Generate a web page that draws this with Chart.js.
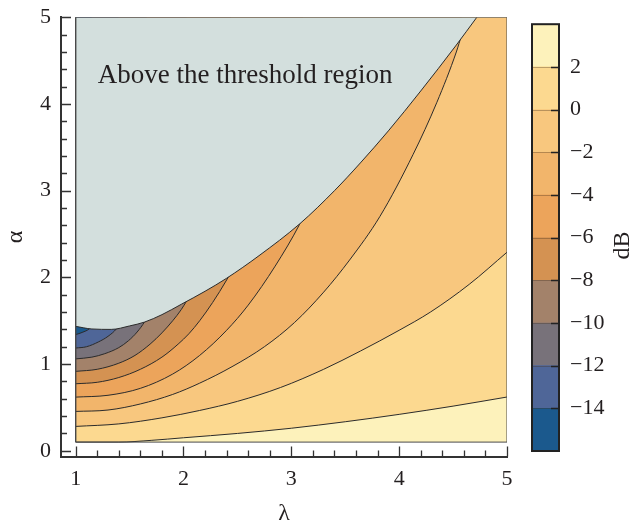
<!DOCTYPE html>
<html>
  <head>
    <title>Gain contours</title>
    <script src="https://cdn.jsdelivr.net/npm/chart.js"></script>
    <style>
      body {
        margin: 0;
        background: #fff;
      }

      .wrap {
        position: relative;
        width: 635px;
        height: 522px;
      }

      #contours {
        position: absolute;
        left: 0;
        top: 0;
      }

      #colorBar {
        position: absolute;
        left: 520px;
        top: 0;
      }
    </style>
  </head>
  <body>
    <div class="wrap">
      <canvas id="contours" width="635" height="522"></canvas>
      <canvas id="colorBar" width="115" height="522"></canvas>
    </div>
    <script>
      // contour lines as [lambda, alpha] pairs
      const threshold = [[1.0, 1.435], [1.15, 1.405], [1.33, 1.4], [1.5, 1.44], [1.64, 1.485], [1.8, 1.57], [1.98, 1.69], [2.2, 1.84], [2.4, 1.99], [2.7, 2.25], [3.08, 2.62], [3.4, 3.0], [3.64, 3.32], [3.9, 3.69], [4.2, 4.15], [4.53, 4.68], [4.72, 5.0]];
      const contourP2 = [[1.0, 0.1], [1.4, 0.1], [1.7, 0.12], [2.0, 0.15], [2.5, 0.2], [3.0, 0.26], [3.5, 0.335], [4.0, 0.42], [4.5, 0.515], [5.0, 0.62]];
      const contour0 = [[1.0, 0.281], [1.4, 0.31], [1.8, 0.38], [2.15, 0.465], [2.5, 0.57], [2.9, 0.73], [3.3, 0.94], [3.64, 1.15], [4.0, 1.39], [4.29, 1.6], [4.65, 1.92], [5.0, 2.29]];
      const contourM2 = [[1.0, 0.454], [1.3, 0.47], [1.6, 0.54], [1.9, 0.65], [2.15, 0.78], [2.45, 0.97], [2.75, 1.2], [3.03, 1.48], [3.3, 1.83], [3.54, 2.2], [3.82, 2.7], [4.13, 3.42], [4.35, 4.02], [4.53, 4.6], [4.58, 4.8]];
      const contourM4 = [[1.0, 0.619], [1.3, 0.64], [1.6, 0.72], [1.9, 0.885], [2.15, 1.1], [2.4, 1.39], [2.6, 1.68], [2.85, 2.13], [3.08, 2.62], [3.11, 2.7]];
      const contourM6 = [[1.0, 0.773], [1.2, 0.79], [1.4, 0.845], [1.6, 0.94], [1.8, 1.08], [1.95, 1.23], [2.05, 1.35], [2.15, 1.5], [2.27, 1.71], [2.4, 1.97], [2.44, 2.06]];
      const contourM8 = [[1.0, 0.916], [1.2, 0.94], [1.4, 1.01], [1.55, 1.1], [1.69, 1.23], [1.8, 1.36], [1.9, 1.5], [1.98, 1.63], [2.03, 1.73]];
      const contourM10 = [[1.0, 1.06], [1.15, 1.08], [1.27, 1.12], [1.4, 1.19], [1.49, 1.27], [1.57, 1.37], [1.64, 1.49], [1.66, 1.54]];
      const contourM12 = [[1.0, 1.185], [1.1, 1.2], [1.21, 1.255], [1.3, 1.32], [1.38, 1.41], [1.4, 1.45]];
      const contourM14 = [[1.0, 1.34], [1.06, 1.365], [1.13, 1.41], [1.15, 1.44]];

      const contourLevels = [2, 0, -2, -4, -6, -8, -10, -12, -14];
      const contourLines = [contourP2, contour0, contourM2, contourM4, contourM6, contourM8, contourM10, contourM12, contourM14];

      // colour bands from -16 dB up to 4 dB
      const bandLow = [-16, -14, -12, -10, -8, -6, -4, -2, 0, 2];
      const bandHigh = [-14, -12, -10, -8, -6, -4, -2, 0, 2, 4];
      const bandColors = ["#1b598d", "#4f6698", "#78727a", "#a3826a", "#d49252", "#eca45b", "#f2b56b", "#f8c77e", "#fcd990", "#fdf2bb"];
      const colorTicks = [2, 0, -2, -4, -6, -8, -10, -12, -14];

      const xTicks = [1, 2, 3, 4, 5];
      const yTicks = [0, 1, 2, 3, 4, 5];
      const lambdaRange = [1, 5];
      const alphaRange = [0.1, 5];

      const serif = "'Liberation Serif', 'Times New Roman', serif";
      const lineColor = "#2b2b2b";

      function pts(list) {
        return list.map(function (p) {
          return { x: p[0], y: p[1] };
        });
      }

      function bandColorFor(level) {
        return bandColors[bandHigh.indexOf(level)];
      }

      const datasets = [];
      datasets.push({
        data: pts([[lambdaRange[0], alphaRange[0]], [lambdaRange[1], alphaRange[0]]]),
        showLine: true,
        fill: "end",
        backgroundColor: bandColors[bandColors.length - 1],
        borderWidth: 0,
        pointRadius: 0,
        order: 30,
      });
      contourLines.forEach(function (line, i) {
        datasets.push({
          data: pts(line),
          showLine: true,
          fill: "end",
          backgroundColor: bandColorFor(contourLevels[i]),
          borderColor: lineColor,
          borderWidth: 1,
          pointRadius: 0,
          cubicInterpolationMode: "monotone",
          order: 20 - i,
        });
      });
      datasets.push({
        data: pts(threshold),
        showLine: true,
        fill: "end",
        backgroundColor: "#d3dfdd",
        borderColor: lineColor,
        borderWidth: 1,
        pointRadius: 0,
        cubicInterpolationMode: "monotone",
        order: 3,
      });
      datasets.push({
        data: pts([
          [lambdaRange[0], alphaRange[0]],
          [lambdaRange[1], alphaRange[0]],
          [lambdaRange[1], alphaRange[1]],
          [lambdaRange[0], alphaRange[1]],
          [lambdaRange[0], alphaRange[0]],
        ]),
        showLine: true,
        fill: false,
        borderColor: "#4a4a4a",
        borderWidth: 1,
        pointRadius: 0,
        order: 1,
      });

      // ticks point into the plot, so draw them ourselves
      const innerTicks = {
        id: "innerTicks",
        afterDraw: function (chart) {
          const ctx = chart.ctx;
          const xs = chart.scales.x;
          const ys = chart.scales.y;
          const area = chart.chartArea;
          ctx.save();
          ctx.strokeStyle = "#333";
          ctx.lineWidth = 1.3;
          ctx.beginPath();
          for (let i = 0; i <= 20; i++) {
            const v = 1 + i * 0.2;
            const px = Math.round(xs.getPixelForValue(v)) + 0.5;
            const len = i % 5 === 0 ? 10 : 6;
            ctx.moveTo(px, area.bottom);
            ctx.lineTo(px, area.bottom - len);
          }
          for (let i = 0; i <= 25; i++) {
            const v = i * 0.2;
            const py = Math.round(ys.getPixelForValue(v)) + 0.5;
            const len = i % 5 === 0 ? 10 : 6;
            ctx.moveTo(area.left, py);
            ctx.lineTo(area.left + len, py);
          }
          ctx.stroke();

          ctx.fillStyle = "#231f20";
          ctx.font = "27px " + serif;
          ctx.textBaseline = "alphabetic";
          ctx.fillText("Above the threshold region", xs.getPixelForValue(1.205), ys.getPixelForValue(4.24));
          ctx.restore();
        },
      };

      new Chart(document.getElementById("contours"), {
        type: "scatter",
        data: { datasets: datasets },
        options: {
          responsive: false,
          animation: false,
          events: [],
          layout: { padding: { top: 17.3, right: 128, left: 0, bottom: 0 } },
          plugins: { legend: { display: false }, tooltip: { enabled: false } },
          scales: {
            x: {
              type: "linear",
              min: 0.864,
              max: 5,
              afterBuildTicks: function (s) {
                s.ticks = xTicks.map(function (v) {
                  return { value: v };
                });
              },
              afterFit: function (s) {
                s.height = 65.5;
              },
              ticks: { font: { family: serif, size: 22 }, color: "#231f20", padding: 10, maxRotation: 0, autoSkip: false },
              grid: { display: false, drawTicks: false },
              border: { display: true, color: "#333", width: 2 },
              title: { display: true, text: "λ", font: { family: serif, size: 24 }, color: "#231f20", padding: { top: 0, bottom: -6 } },
            },
            y: {
              type: "linear",
              min: -0.066,
              max: 5,
              afterBuildTicks: function (s) {
                s.ticks = yTicks.map(function (v) {
                  return { value: v };
                });
              },
              afterFit: function (s) {
                s.width = 61;
              },
              ticks: { font: { family: serif, size: 22 }, color: "#231f20", padding: 0, autoSkip: false },
              grid: { display: false, drawTicks: true, tickLength: 10 },
              border: { display: true, color: "#333", width: 2 },
              title: { display: true, text: "α", font: { family: serif, size: 24 }, color: "#231f20", padding: { top: 1, bottom: 0 } },
            },
          },
        },
        plugins: [innerTicks],
      });

      // colour bar
      const barFrame = {
        id: "barFrame",
        afterDraw: function (chart) {
          const ctx = chart.ctx;
          const a = chart.chartArea;
          const ys = chart.scales.y;
          ctx.save();
          ctx.strokeStyle = "rgba(70, 50, 30, 0.35)";
          ctx.lineWidth = 1;
          ctx.beginPath();
          bandHigh.slice(0, -1).forEach(function (v) {
            const py = Math.round(ys.getPixelForValue(v)) + 0.5;
            ctx.moveTo(a.left, py);
            ctx.lineTo(a.right, py);
          });
          ctx.stroke();
          ctx.strokeStyle = "#222";
          ctx.lineWidth = 1.5;
          ctx.beginPath();
          colorTicks.forEach(function (v) {
            const py = Math.round(ys.getPixelForValue(v)) + 0.5;
            ctx.moveTo(a.right - 8, py);
            ctx.lineTo(a.right, py);
          });
          ctx.stroke();
          ctx.lineWidth = 2;
          ctx.strokeRect(a.left, a.top, a.right - a.left, a.bottom - a.top);

          ctx.translate(a.right + 64, (a.top + a.bottom) / 2 + 8);
          ctx.rotate(-Math.PI / 2);
          ctx.fillStyle = "#231f20";
          ctx.font = "24px " + serif;
          ctx.textAlign = "center";
          ctx.textBaseline = "middle";
          ctx.fillText("dB", 0, 0);
          ctx.restore();
        },
      };

      new Chart(document.getElementById("colorBar"), {
        type: "bar",
        data: {
          labels: ["dB"],
          datasets: bandColors.map(function (c, i) {
            return {
              data: [[bandLow[i], bandHigh[i]]],
              backgroundColor: c,
              borderWidth: 0,
              grouped: false,
              barPercentage: 1,
              categoryPercentage: 1,
            };
          }),
        },
        options: {
          responsive: false,
          animation: false,
          events: [],
          layout: { padding: { top: 23, left: 12, right: 0, bottom: 71 } },
          plugins: { legend: { display: false }, tooltip: { enabled: false } },
          scales: {
            x: { display: false },
            y: {
              position: "right",
              min: -16,
              max: 4,
              afterBuildTicks: function (s) {
                s.ticks = colorTicks.map(function (v) {
                  return { value: v };
                });
              },
              afterFit: function (s) {
                s.width = 76;
              },
              ticks: {
                font: { family: serif, size: 22 },
                color: "#231f20",
                padding: 11,
                autoSkip: false,
                callback: function (v) {
                  return v < 0 ? "\u2212" + Math.abs(v) : String(v);
                },
              },
              grid: { display: false, drawTicks: false },
              border: { display: false },
            },
          },
        },
        plugins: [barFrame],
      });
    </script>
  </body>
</html>
